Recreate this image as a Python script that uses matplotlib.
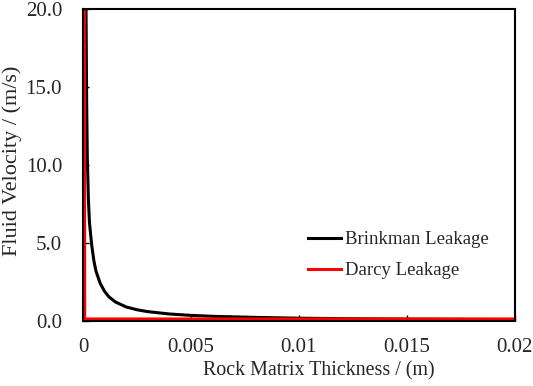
import matplotlib.pyplot as plt
import numpy as np

# Dados
espessura_brinkman = [0.00012, 0.00014, 0.00017, 0.0002, 0.00025, 0.0003, 0.0004, 0.0005,
                      0.0006, 0.0008, 0.001, 0.0012, 0.0015, 0.002, 0.0025, 0.003, 0.004,
                      0.005, 0.006, 0.008, 0.01, 0.012, 0.015, 0.02]
velocidade_brinkman = [24.0, 20.0, 14.0, 10.5, 7.8, 6.3, 4.9, 3.9,
                       3.2, 2.4, 1.9, 1.55, 1.22, 0.9, 0.72, 0.6, 0.45,
                       0.36, 0.3, 0.23, 0.18, 0.15, 0.12, 0.09]

espessura_darcy = [0.00006, 0.00008, 0.02]
velocidade_darcy = [25.0, 0.13, 0.13]

xticks = [0, 0.005, 0.01, 0.015, 0.02]
xtick_labels = ['0', '0.005', '0.01', '0.015', '0.02']
yticks = [0, 5, 10, 15, 20]
ytick_labels = ['0.0', '5.0', '10.0', '15.0', '20.0']

plt.rcParams['font.family'] = ['Liberation Serif', 'DejaVu Serif']
cor_texto = '#262626'

fig = plt.figure(figsize=(5.33, 3.86), dpi=100)
ax = fig.add_axes([0.1557, 0.1684, 0.8103, 0.8083])

ax.plot(espessura_brinkman, velocidade_brinkman, color='black', lw=2.2, label='Brinkman Leakage')
ax.plot(espessura_darcy, velocidade_darcy, color='#ff0000', lw=2.2, label='Darcy Leakage')

ax.set_xlim(0, 0.02)
ax.set_ylim(0, 20)
ax.set_xticks(xticks)
ax.set_xticklabels(xtick_labels)
ax.set_yticks(yticks)
ax.set_yticklabels(ytick_labels)

ax.tick_params(axis='both', direction='in', length=4, width=1, labelsize=15, colors='black',
               labelcolor=cor_texto)
ax.tick_params(axis='x', pad=12)
ax.tick_params(axis='y', pad=15)
for s in ax.spines.values():
    s.set_linewidth(1.5)
    s.set_color('black')

# rotulos dos eixos posicionados em coordenadas da figura
fig.text(319 / 533, 1 - 371 / 386, 'Rock Matrix Thickness / (m)', fontsize=14.4,
         color=cor_texto, ha='center', va='center')
fig.text(12 / 533, 1 - 161 / 386, 'Fluid Velocity / (m/s)', fontsize=16, rotation=90,
         color=cor_texto, ha='center', va='center')

leg = ax.legend(loc='upper left', bbox_to_anchor=(0.483, 0.342), frameon=False, fontsize=13.5,
                handlelength=1.75, handletextpad=0.2, labelspacing=0.75)
for t in leg.get_texts():
    t.set_color(cor_texto)

fig.savefig('out.png', dpi=100)
